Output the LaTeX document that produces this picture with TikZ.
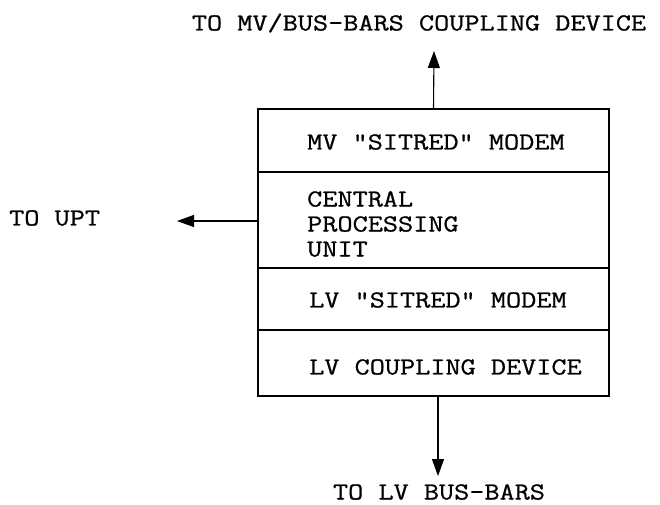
\documentclass[tikz,border=0pt]{standalone}
\usepackage{fontspec}
\newfontfamily\plotfont{Latin Modern Mono}[FakeStretch=1.2,FakeBold=0.8]
\usetikzlibrary{arrows.meta}
\begin{document}
\begin{tikzpicture}[x=1pt,y=-1pt,
  sect/.style={draw, line width=1.1pt, minimum width=351pt, inner sep=0pt, outer sep=0pt},
  lbl/.style={inner sep=0pt, font=\fontsize{24.5}{26}\selectfont\plotfont, align=left},
  conn/.style={line width=1.1pt, -{Triangle[length=17pt,width=12pt]}}]
\useasboundingbox (0,0) rectangle (660,504);
\node[sect, minimum height=63pt] (mv)  at (433.5,140.5) {};
\node[sect, minimum height=96pt] (cpu) at (433.5,220) {};
\node[sect, minimum height=62pt] (lvm) at (433.5,299) {};
\node[sect, minimum height=66pt] (lvc) at (433.5,363) {};
\node[lbl, anchor=west] (tmv)  at (307,142) {MV "SITRED" MODEM};
\node[lbl, anchor=west] (tcpu) at (307,224) {CENTRAL\\[-1pt]PROCESSING\\[-1pt]UNIT};
\node[lbl, anchor=west] (tlvm) at (309,300) {LV "SITRED" MODEM};
\node[lbl, anchor=west] (tlvc) at (309,367) {LV COUPLING DEVICE};
\node[lbl] (top) at (419,23) {TO MV/BUS-BARS COUPLING DEVICE};
\node[lbl] (bot) at (439,492) {TO LV BUS-BARS};
\node[lbl, anchor=west] (upt) at (9,218) {TO UPT};
\coordinate (ttip) at (434,51);
\coordinate (btip) at (438,476);
\coordinate (ltip) at (177,221);
\draw[conn] (mv.north) -- (ttip);
\draw[conn] ([xshift=4.5pt]lvc.south) -- (btip);
\draw[conn] (cpu.west |- ltip) -- (ltip);
\end{tikzpicture}
\end{document}
